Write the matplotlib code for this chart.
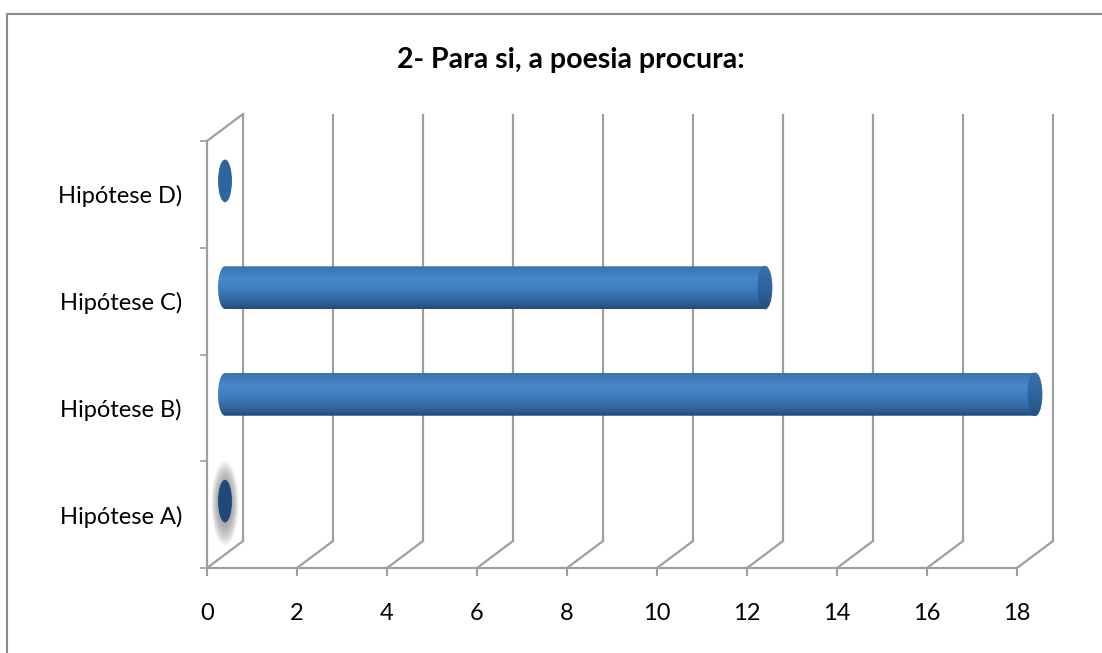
import numpy as np
import matplotlib
matplotlib.use("Agg")
import matplotlib.pyplot as plt
from matplotlib.colors import LinearSegmentedColormap
from matplotlib.patches import Ellipse, PathPatch
from matplotlib.path import Path
from matplotlib.lines import Line2D

plt.rcParams['font.family'] = ['Lato', 'DejaVu Sans']

categories = ['Hipótese A)', 'Hipótese B)', 'Hipótese C)', 'Hipótese D)']
values = [0, 18, 12, 0]
xticks = [0, 2, 4, 6, 8, 10, 12, 14, 16, 18]
title = '2- Para si, a poesia procura:'

W, H = 1102, 653
fig = plt.figure(figsize=(W / 100, H / 100), dpi=100)
ax = fig.add_axes([207 / W, (H - 568) / H, 810 / W, 427 / H])

grid_c = '#9E9E9E'
# depth of the 3d box in data units
DX, DY = 0.8, 0.253
bar_h = 0.40
cap_w = 0.31

# back wall gridlines + floor diagonals
for v in xticks:
    ax.plot([v + DX, v + DX], [-0.5 + DY, 3.5 + DY], color=grid_c, lw=1.6,
            clip_on=False, zorder=1, solid_capstyle='butt')
    ax.plot([v, v + DX], [-0.5, -0.5 + DY], color=grid_c, lw=1.6,
            clip_on=False, zorder=1)
# left wall
ax.plot([0, 0], [-0.5, 3.5], color=grid_c, lw=1.6, clip_on=False, zorder=2)
ax.plot([0, DX], [3.5, 3.5 + DY], color=grid_c, lw=1.6, clip_on=False, zorder=2)
# floor front edge
ax.plot([0, 18], [-0.5, -0.5], color=grid_c, lw=1.6, clip_on=False, zorder=2)

body_cmap = LinearSegmentedColormap.from_list('body', [
    (0.0, '#3A72B0'), (0.3, '#4889CB'), (0.55, '#3F7CBD'),
    (0.85, '#2F6199'), (1.0, '#22487A')])
cap_cmap = LinearSegmentedColormap.from_list('cap', [
    (0.0, '#3570AE'), (0.5, '#2F659F'), (1.0, '#244F80')])
grad = np.linspace(0, 1, 256).reshape(-1, 1)

for i, v in enumerate(values):
    cx0 = DX / 2
    cy = i + DY / 2
    top, bot = cy + bar_h / 2, cy - bar_h / 2
    if v > 0:
        # body: rectangle with a rounded left end
        t = np.linspace(np.pi / 2, 3 * np.pi / 2, 40)
        arc = np.column_stack([cx0 + cap_w / 2 * np.cos(t), cy + bar_h / 2 * np.sin(t)])
        verts = np.vstack([[[cx0, top], [v + cx0, top], [v + cx0, bot], [cx0, bot]], arc[::-1]])
        body = PathPatch(Path(np.vstack([verts, verts[:1]])), facecolor='none',
                         edgecolor='none', zorder=3, clip_on=False)
        ax.add_patch(body)
        im = ax.imshow(grad, cmap=body_cmap, aspect='auto', zorder=3,
                       extent=[cx0 - cap_w / 2, v + cx0, bot, top], origin='upper')
        im.set_clip_path(body)
        im.set_clip_box(fig.bbox)
        # end cap
        cap = Ellipse((v + cx0, cy), cap_w, bar_h, facecolor='none',
                      edgecolor='#2A5A8E', lw=0.6, zorder=4, clip_on=False)
        ax.add_patch(cap)
        im2 = ax.imshow(grad, cmap=cap_cmap, aspect='auto', zorder=4,
                        extent=[v + cx0 - cap_w / 2, v + cx0 + cap_w / 2, bot, top],
                        origin='upper')
        im2.set_clip_path(cap)
        im2.set_clip_box(fig.bbox)
    else:
        if i == 0:
            # soft grey shadow around the empty bar
            n = 18
            for k in range(n):
                s = 1.0 - k / n
                ax.add_patch(Ellipse((cx0, cy - 0.02),
                                     cap_w * 0.9 + (0.60 - cap_w * 0.9) * s,
                                     bar_h * 0.9 + (0.80 - bar_h * 0.9) * s,
                                     facecolor='#7A7A7A', edgecolor='none',
                                     alpha=0.05, zorder=3))
            col = '#1F4A78'
        else:
            col = '#2D659E'
        ax.add_patch(Ellipse((cx0, cy), cap_w, bar_h, facecolor=col,
                             edgecolor='none', zorder=4))

ax.set_xlim(0, 18)
ax.set_ylim(-0.5, 3.5)
for s in ax.spines.values():
    s.set_visible(False)
ax.set_xticks(xticks)
ax.set_xticklabels([str(x) for x in xticks], fontsize=17)
ax.set_yticks(range(len(categories)))
ax.set_yticklabels(categories, fontsize=17)
ax.set_yticks(np.arange(-0.5, 4, 1), minor=True)
ax.tick_params(axis='x', length=5.5, width=1.5, color=grid_c, pad=19.5)
ax.tick_params(axis='y', which='major', length=0, pad=18)
ax.tick_params(axis='y', which='minor', length=5, width=1.2, color=grid_c)

fig.text(571 / W, 1 - 60 / H, title, ha='center', va='center',
         fontsize=20.5, fontweight='bold')

# chart frame
fig.add_artist(Line2D([7 / W, 7 / W, 1], [0, 1 - 14 / H, 1 - 14 / H],
                      color='#8C8C8C', lw=1.5, transform=fig.transFigure))

fig.savefig('out.png', dpi=100)
